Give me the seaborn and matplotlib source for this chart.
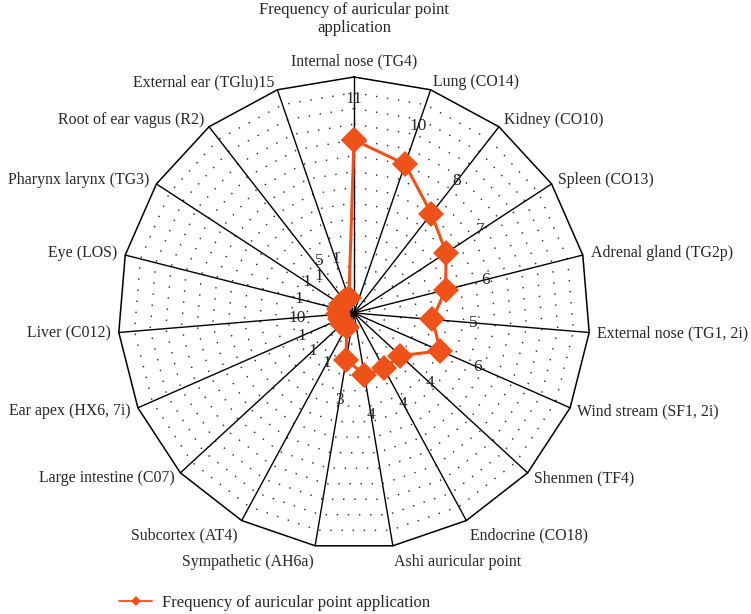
import numpy as np
import pandas as pd
import matplotlib.pyplot as plt
import seaborn as sns

# Dati
categories = ["Internal nose (TG4)", "Lung (CO14)", "Kidney (CO10)", "Spleen (CO13)",
              "Adrenal gland (TG2p)", "External nose (TG1, 2i)", "Wind stream (SF1, 2i)",
              "Shenmen (TF4)", "Endocrine (CO18)", "Ashi auricular point",
              "Sympathetic (AH6a)", "Subcortex (AT4)", "Large intestine (C07)",
              "Ear apex (HX6, 7i)", "Liver (C012)", "Eye (LOS)", "Pharynx larynx (TG3)",
              "Root of ear vagus (R2)", "External ear (TGlu)15"]
frequency = [11, 10, 8, 7, 6, 5, 6, 4, 4, 4, 3, 1, 1, 1, 1, 1, 1, 1, 1]
value_labels = ["11", "10", "8", "7", "6", "5", "6", "4", "4", "4", "3",
                "1", "1", "1", "10", "1", "1", "5\n1", "1"]
r_max = 15
series_name = "Frequency of auricular point application"
title = "Frequency of auricular point\napplication"
orange = "#EF5219"

n = len(categories)
theta = 2 * np.pi * np.arange(n) / n

sns.set_style("white")
plt.rcParams['font.family'] = ['Liberation Serif', 'DejaVu Serif']

fig = plt.figure(figsize=(7.51, 6.14), dpi=100)
ax = fig.add_axes([0, 0, 1, 1])
k = 236 / r_max  # pixel per unita'
ax.set_xlim(-354 / k, (751 - 354) / k)
ax.set_ylim(-301 / k, 313 / k)
ax.axis('off')

# Griglia poligonale
ring_t = np.append(theta, theta[0])
for r in range(1, r_max):
    ax.plot(r * np.sin(ring_t), r * np.cos(ring_t), color='#222222', lw=1.0,
            ls=(0, (1, 7)), zorder=1)
ax.plot(r_max * np.sin(ring_t), r_max * np.cos(ring_t), color='black', lw=1.1, zorder=2)
for t in theta:
    ax.plot([0, r_max * np.sin(t)], [0, r_max * np.cos(t)], color='black', lw=1.0, zorder=2)

# Serie (chiusa)
df = pd.DataFrame({'category': categories + categories[:1],
                   'frequency': frequency + frequency[:1],
                   'theta': np.append(theta, theta[0])})
df['x'] = df['frequency'] * np.sin(df['theta'])
df['y'] = df['frequency'] * np.cos(df['theta'])
sns.lineplot(data=df, x='x', y='y', sort=False, estimator=None, color=orange, lw=2.2,
             marker='D', markersize=13.5, markeredgecolor=orange, markeredgewidth=0,
             label=series_name, ax=ax, zorder=3)

# Etichette categorie
pad = 8 / k
for t, name in zip(theta, categories):
    s, c = np.sin(t), np.cos(t)
    ha = 'center' if abs(s) < 0.1 else ('left' if s > 0 else 'right')
    va = 'bottom' if c > 0.95 else ('top' if c < -0.8 else 'center')
    ax.text((r_max + pad) * s, (r_max + pad) * c, name, ha=ha, va=va, fontsize=11.4)

# Etichette valori
for t, v, lab in zip(theta, frequency, value_labels):
    r = v + 2.6
    ax.text(r * np.sin(t), r * np.cos(t), lab, ha='center', va='center',
            fontsize=12.5, linespacing=0.95, zorder=4)

ax.text(0, 0.997, title, transform=ax.get_xaxis_transform(), ha='center', va='top',
        fontsize=12, linespacing=1.15)

leg = ax.legend(loc='center left', bbox_to_anchor=(104 / 751, 11 / 614),
                bbox_transform=fig.transFigure, frameon=False, fontsize=12,
                markerscale=0.4, handlelength=2.0, handletextpad=0.6)
leg.get_lines()[0].set_linewidth(1.3)

fig.savefig('out.png', dpi=100)
plt.close()
